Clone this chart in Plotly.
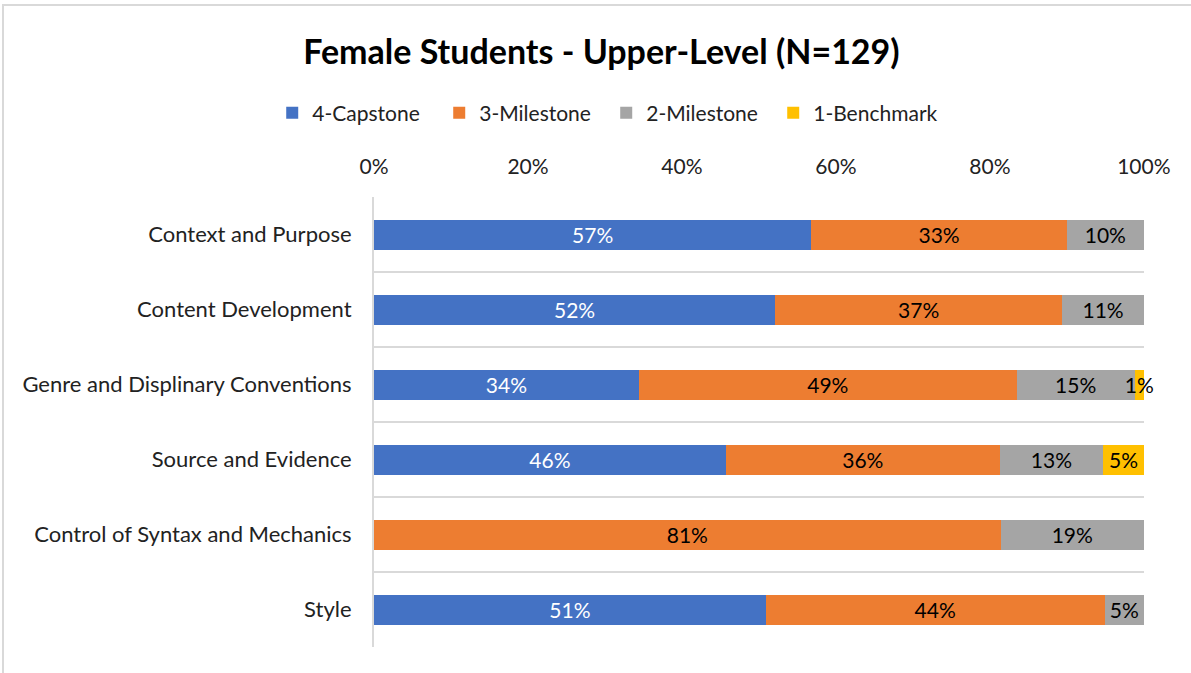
import plotly.graph_objects as go

categories = ["Context and Purpose", "Content Development", "Genre and Displinary Conventions",
              "Source and Evidence", "Control of Syntax and Mechanics", "Style"]
capstone4 = [56.8, 52.1, 34.4, 45.7, None, 50.9]
milestone3 = [33.2, 37.3, 49.1, 35.6, 81.4, 44.0]
milestone2 = [10.0, 10.6, 15.3, 13.4, 18.6, 5.1]
benchmark1 = [None, None, 1.2, 5.3, None, None]
tick_vals = [0, 20, 40, 60, 80, 100]
tick_text = ["0%", "20%", "40%", "60%", "80%", "100%"]

FONT = "Lato, 'Open Sans', sans-serif"
series = [
    ("4-Capstone", capstone4, "#4472C4", "white"),
    ("3-Milestone", milestone3, "#ED7D31", "black"),
    ("2-Milestone", milestone2, "#A5A5A5", "black"),
    ("1-Benchmark", benchmark1, "#FFC000", "black"),
]

fig = go.Figure()
for name, vals, color, tcolor in series:
    fig.add_trace(go.Bar(
        y=categories, x=vals, name=name, orientation="h",
        marker=dict(color=color, line=dict(width=0)),
        texttemplate="%{x:.0f}%", textposition="inside", insidetextanchor="middle",
        textangle=0, constraintext="none",
        textfont=dict(color=tcolor, size=21, family=FONT),
        cliponaxis=False,
    ))

fig.update_layout(
    barmode="stack", bargap=0.6,
    width=1191, height=673,
    margin=dict(l=374, r=47, t=197, b=26),
    paper_bgcolor="white", plot_bgcolor="white",
    font=dict(family=FONT, size=21, color="#222"),
    uniformtext=dict(minsize=21, mode="show"),
    title=dict(text="<b>Female Students - Upper-Level (N=129)</b>", x=0.505, xanchor="center",
               y=0.922, yanchor="middle", font=dict(size=34, color="black", family=FONT)),
    legend=dict(orientation="h", x=0.509, xref="container", xanchor="center", y=0.832,
                yref="container", yanchor="middle", font=dict(size=21, color="#222"),
                traceorder="normal", itemwidth=30, itemsizing="constant", entrywidth=122),
    xaxis=dict(side="top", range=[0, 100.02], tickvals=tick_vals, ticktext=tick_text,
               showgrid=False, zeroline=False, showline=False, ticks="",
               ticklabelstandoff=18,
               tickfont=dict(size=21, color="#222"), fixedrange=True),
    yaxis=dict(autorange="reversed", type="category", tickson="boundaries",
               showgrid=True, gridcolor="#d9d9d9", gridwidth=2,
               showline=True, linecolor="#d9d9d9", linewidth=2, ticks="",
               ticklabelstandoff=16,
               tickfont=dict(size=22, color="#222")),
    shapes=[dict(type="rect", xref="paper", yref="paper", x0=-0.4818, x1=1.2,
                 y0=-0.2, y1=1.4267, line=dict(color="#d9d9d9", width=2), layer="below")],
)

fig.write_html("out.html", config={"displayModeBar": False},
               post_script="document.body.style.margin='0';document.body.style.overflow='hidden';")
